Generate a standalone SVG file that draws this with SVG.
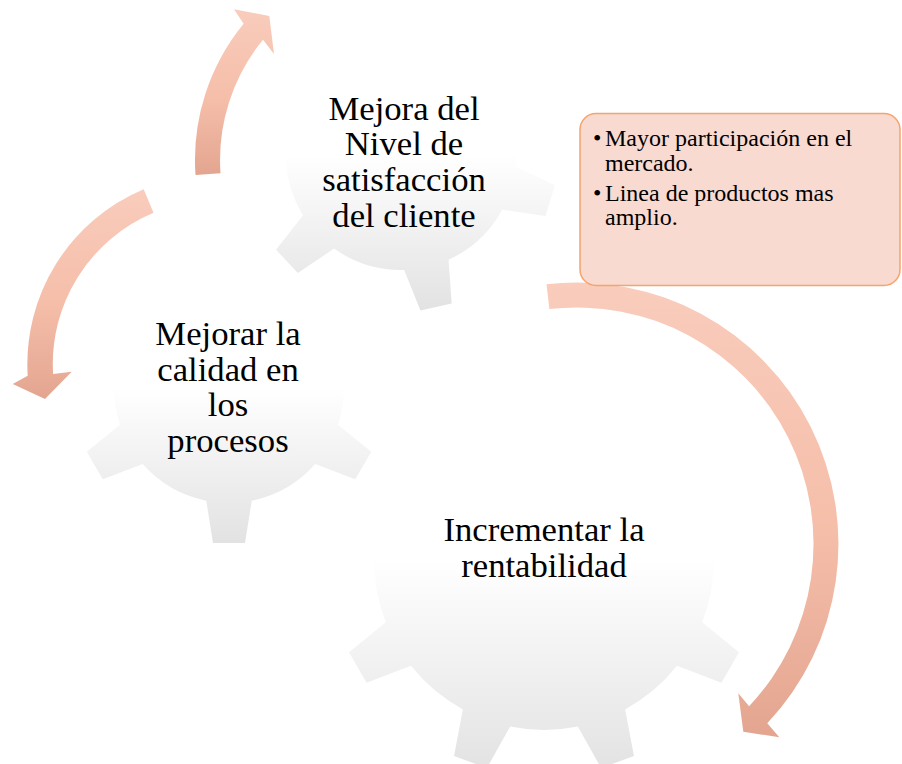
<svg xmlns="http://www.w3.org/2000/svg" xmlns:xlink="http://www.w3.org/1999/xlink" width="902" height="764" viewBox="0 0 902 764">
<style>
.lbl{font-family:"Liberation Serif","Times New Roman",serif;font-size:34.67px;fill:#000;text-anchor:middle}
.bul{font-family:"Liberation Serif","Times New Roman",serif;font-size:24px;fill:#000}
.arrow{stroke:none}
</style>
<defs>
<linearGradient id="gearGrad" x1="0" y1="0" x2="0" y2="1">
<stop offset="0" stop-color="#ffffff"/>
<stop offset="0.5" stop-color="#ffffff"/>
<stop offset="1" stop-color="#e2e2e2"/>
</linearGradient>
<linearGradient id="arrowGrad" x1="0" y1="0" x2="0" y2="1">
<stop offset="0" stop-color="#f9ccbc"/>
<stop offset="0.55" stop-color="#f5bea9"/>
<stop offset="1" stop-color="#e3a590"/>
</linearGradient>
<polygon id="t9" points="517.5,400 526.5,345 561.5,345 570.5,400"/>
<polygon id="t6m" points="205,283 213,233 245,233 253,283"/>
<polygon id="t6t" points="377,50 385,-1 417,-1 425,50"/>
<clipPath id="clipBig">
<circle cx="544" cy="560" r="170"/>
<use xlink:href="#t9"/>
<use xlink:href="#t9" transform="rotate(40 544 560)"/>
<use xlink:href="#t9" transform="rotate(80 544 560)"/>
<use xlink:href="#t9" transform="rotate(120 544 560)"/>
<use xlink:href="#t9" transform="rotate(160 544 560)"/>
<use xlink:href="#t9" transform="rotate(200 544 560)"/>
<use xlink:href="#t9" transform="rotate(240 544 560)"/>
<use xlink:href="#t9" transform="rotate(280 544 560)"/>
<use xlink:href="#t9" transform="rotate(320 544 560)"/>
</clipPath>
<clipPath id="clipMid">
<circle cx="229" cy="388" r="115"/>
<use xlink:href="#t6m"/>
<use xlink:href="#t6m" transform="rotate(60 229 388)"/>
<use xlink:href="#t6m" transform="rotate(120 229 388)"/>
<use xlink:href="#t6m" transform="rotate(180 229 388)"/>
<use xlink:href="#t6m" transform="rotate(240 229 388)"/>
<use xlink:href="#t6m" transform="rotate(300 229 388)"/>
</clipPath>
<clipPath id="clipTop">
<circle cx="401" cy="155" r="115"/>
<use xlink:href="#t6t" transform="rotate(-13 401 155)"/>
<use xlink:href="#t6t" transform="rotate(47 401 155)"/>
<use xlink:href="#t6t" transform="rotate(107 401 155)"/>
<use xlink:href="#t6t" transform="rotate(167 401 155)"/>
<use xlink:href="#t6t" transform="rotate(227 401 155)"/>
<use xlink:href="#t6t" transform="rotate(287 401 155)"/>
</clipPath>
</defs>
<rect width="902" height="764" fill="#ffffff"/>

<g id="gear-rentabilidad">
<rect x="329" y="345" width="430" height="430" fill="url(#gearGrad)" clip-path="url(#clipBig)"/>
<text class="lbl" x="544" y="541">Incrementar la</text>
<text class="lbl" x="544" y="577">rentabilidad</text>
</g>

<g id="gear-calidad">
<rect x="73" y="232" width="312" height="312" fill="url(#gearGrad)" clip-path="url(#clipMid)"/>
<text class="lbl" x="228" y="345">Mejorar la</text>
<text class="lbl" x="228" y="380.7">calidad en</text>
<text class="lbl" x="228" y="416.3">los</text>
<text class="lbl" x="228" y="452">procesos</text>
</g>

<g id="gear-satisfaccion">
<rect x="245" y="-1" width="312" height="312" fill="url(#gearGrad)" clip-path="url(#clipTop)"/>
<text class="lbl" x="404" y="119.5">Mejora del</text>
<text class="lbl" x="404" y="155.3">Nivel de</text>
<text class="lbl" x="404" y="191.1">satisfacción</text>
<text class="lbl" x="404" y="226.9">del cliente</text>
</g>

<g id="connectors">
<path class="arrow" fill="url(#arrowGrad)" d="M195.5,175 A215,215 0 0 1 243.6,23.8 L234,9.3 L269.3,16 L274,54 L263,39.7 A190,190 0 0 0 220.5,173.3 Z"/>
<path class="arrow" fill="url(#arrowGrad)" d="M143.7,189.3 A189.5,189.5 0 0 0 27.7,375.7 L12.7,384 L45,399 L71.7,371.7 L53.1,374.1 A164,164 0 0 1 153.5,212.8 Z"/>
<path class="arrow" fill="url(#arrowGrad)" d="M546.5,284.3 A261.5,261.5 0 0 1 767.3,723.3 L779.3,737.3 L743.3,731.7 L738.3,693.3 L749.1,706.2 A236.5,236.5 0 0 0 549.4,309.1 Z"/>
</g>

<g id="note-box">
<rect x="580" y="113.5" width="320" height="172" rx="16" ry="16" fill="#f9dad1" stroke="#f4a46c" stroke-width="1.5"/>
<text class="bul" x="593" y="145.7">•</text>
<text class="bul" x="605" y="145.7">Mayor participación en el</text>
<text class="bul" x="605" y="171">mercado.</text>
<text class="bul" x="593" y="200.7">•</text>
<text class="bul" x="605" y="200.7">Linea de productos mas</text>
<text class="bul" x="605" y="225">amplio.</text>
</g>
</svg>
